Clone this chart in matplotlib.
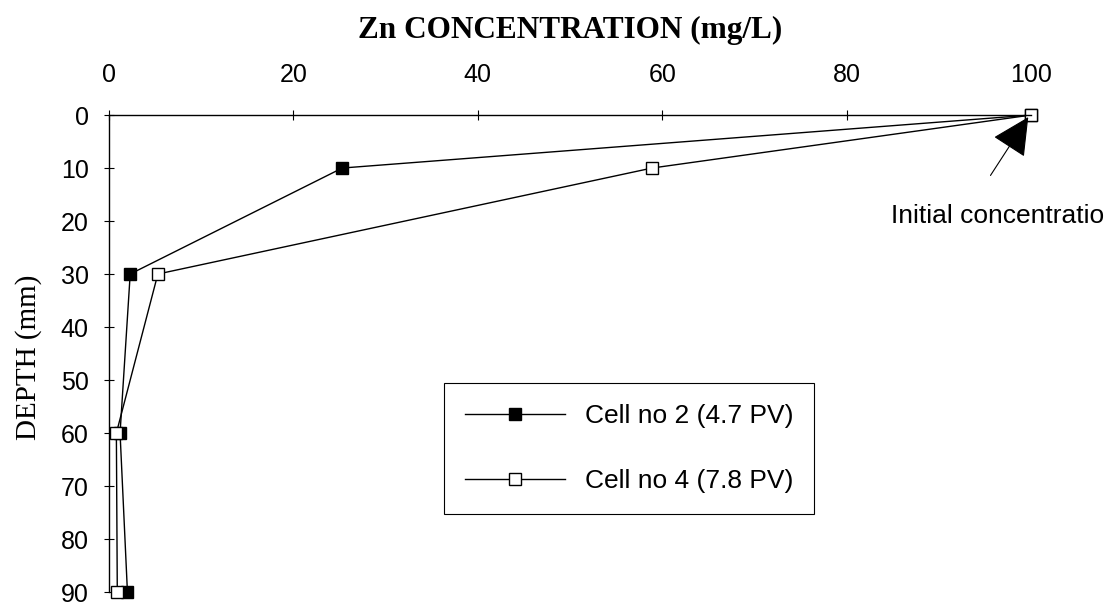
import matplotlib
matplotlib.use("Agg")
from matplotlib import pyplot as plt
import numpy as np

# depth (mm) vs Zn concentration (mg/L)
depth = [0, 10, 30, 60, 90]
cell2_conc = [100, 25.3, 2.3, 1.2, 2.0]
cell4_conc = [100, 58.9, 5.3, 0.8, 0.9]

x_ticks = [0, 20, 40, 60, 80, 100]
y_ticks = [0, 10, 20, 30, 40, 50, 60, 70, 80, 90]

sans = "Liberation Sans"
serif = "Liberation Serif"

fig = plt.figure(figsize=(11.19, 6.08), dpi=100)
ax = fig.add_axes([0.0974, 0.0263, 0.824, 0.7845])

ax.plot(cell2_conc, depth, color="black", lw=1.0, marker="s", ms=8.5,
        mfc="black", mec="black", clip_on=False, label="Cell no 2 (4.7 PV)")
ax.plot(cell4_conc, depth, color="black", lw=1.0, marker="s", ms=8.5,
        mfc="white", mec="black", clip_on=False, label="Cell no 4 (7.8 PV)")

ax.set_xlim(0, 100)
ax.set_ylim(90, 0)
ax.xaxis.tick_top()
ax.set_xticks(x_ticks)
ax.set_yticks(y_ticks)
ax.spines["right"].set_visible(False)
ax.spines["bottom"].set_visible(False)
for s in ["top", "left"]:
    ax.spines[s].set_linewidth(1.0)
ax.tick_params(axis="x", direction="inout", length=7, width=0.8, pad=17,
               labelsize=18)
ax.tick_params(axis="y", direction="inout", length=7, width=0.8, pad=11,
               labelsize=18)
for lab in ax.get_xticklabels() + ax.get_yticklabels():
    lab.set_fontfamily(sans)

fig.text(570 / 1119, 1 - 30 / 608, "Zn CONCENTRATION (mg/L)", ha="center",
         va="center", fontsize=22.5, fontweight="bold", family=serif)
fig.text(29 / 1119, 1 - 357 / 608, "DEPTH (mm)", ha="center", va="center",
         rotation=90, fontsize=21, family=serif)

leg = ax.legend(loc="lower left", bbox_to_anchor=(0.363, 0.1635), numpoints=1,
                handlelength=3.8, handletextpad=0.75, labelspacing=1.55,
                borderpad=0.8, borderaxespad=0, fancybox=False, framealpha=1,
                prop={"family": sans, "size": 19})
leg.get_frame().set_edgecolor("black")
leg.get_frame().set_linewidth(0.8)

# arrow to the initial concentration point
ax.annotate("", xy=(99.7, 0.4), xytext=(95.6, 11.4),
            arrowprops=dict(arrowstyle="-|>,head_length=1.6,head_width=0.8",
                            mutation_scale=15, color="black", lw=0.8,
                            shrinkA=0, shrinkB=0),
            annotation_clip=False)
ax.text(84.8, 19.1, "Initial concentratio", ha="left", va="center",
        fontsize=19, family=sans, clip_on=False)

fig.savefig("out.png", dpi=100)
